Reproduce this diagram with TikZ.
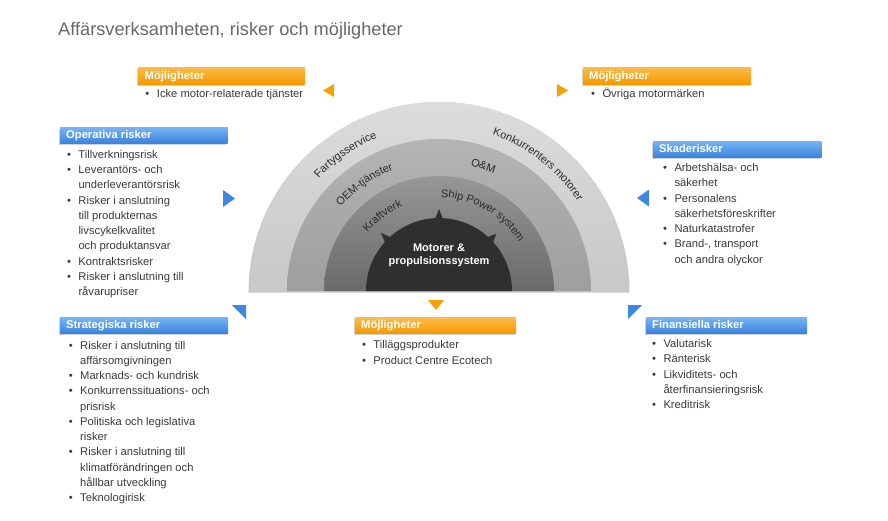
\documentclass[tikz,border=0pt]{standalone}
\usepackage{fontspec}
\setmainfont{Liberation Sans}
\usetikzlibrary{decorations.text}
\definecolor{txt}{HTML}{3A3A3A}
\definecolor{ttl}{HTML}{686868}
\definecolor{orT}{HTML}{FDBB4A}
\definecolor{orB}{HTML}{F39A00}
\definecolor{blT}{HTML}{78B4F4}
\definecolor{blB}{HTML}{3B84DC}
\definecolor{orTri}{HTML}{F7A000}
\definecolor{blTri}{HTML}{3D88E0}
\definecolor{rAt}{HTML}{DCDCDC}
\definecolor{rAb}{HTML}{C8C8C8}
\definecolor{rBt}{HTML}{B4B4B4}
\definecolor{rBb}{HTML}{9E9E9E}
\definecolor{rCt}{HTML}{979797}
\definecolor{rCb}{HTML}{6A6A6A}
\definecolor{core}{HTML}{2F2F2F}
\definecolor{ringtxt}{HTML}{2A2A2A}
\newcommand\bul{\makebox[0pt][r]{\textbullet\hspace{7.5pt}}}
\newcommand\ringfont{\fontsize{11}{13}\selectfont\color{ringtxt}}
\newcommand\mkbar[8]{%
  \fill[black!18] (#2-1.5,#3+1.5) rectangle (#4-1.5,#5+1.5);
  \shade[top color=#6,bottom color=#7] (#2,#3) rectangle (#4,#5);
  \node[hdr] (#1) at (#2+6,#5-4.5) {#8};
}
\tikzset{
  hdr/.style={anchor=base west, inner sep=0pt, text=white, font=\fontsize{11.2}{13}\selectfont\bfseries},
  list/.style={anchor=base west, inner sep=0pt, text=txt, font=\fontsize{11.2}{15.25}\selectfont},
  otri/.style={fill=orTri},
  btri/.style={fill=blTri},
  arctext/.style={decorate, decoration={text along path, text align=center, text={|\ringfont|#1}}},
}
\begin{document}
\begin{tikzpicture}[x=1pt,y=-1pt]
\useasboundingbox (0,0) rectangle (888,520);
\fill[white] (0,0) rectangle (888,520);

% title
\node[anchor=base west, inner sep=0pt, text=ttl, font=\fontsize{18.2}{20}\selectfont] (title) at (58,35) {Affärsverksamheten, risker och möjligheter};

% semicircle diagram
\begin{scope}[shift={(439,291)}, y=1pt]
  \fill[black!22] (-190.5,-1.5) arc[start angle=180,end angle=0,radius=190.5] -- cycle;
  \shade[top color=rAt,bottom color=rAb] (-189,0) arc[start angle=180,end angle=0,radius=189] -- cycle;
  \shade[top color=rBt,bottom color=rBb] (-152,0) arc[start angle=180,end angle=0,radius=152] -- cycle;
  \shade[top color=rCt,bottom color=rCb] (-115,0) arc[start angle=180,end angle=0,radius=115] -- cycle;
  \fill[core] (-73,0) arc[start angle=180,end angle=137.8,radius=73] -- (135:82) -- (132.2:73)
     arc[start angle=132.2,end angle=92.8,radius=73] -- (90:82) -- (87.2:73)
     arc[start angle=87.2,end angle=47.8,radius=73] -- (45:81) -- (42.2:73)
     arc[start angle=42.2,end angle=0,radius=73] -- cycle;
  \path[arctext=Fartygsservice] (164.4:165) arc[start angle=164.4,end angle=84.4,radius=165];
  \path[arctext=Konkurrenters motorer] (92:165) arc[start angle=92,end angle=12,radius=165];
  \path[arctext=OEM-tjänster] (165:129.5) arc[start angle=165,end angle=85,radius=129.5];
  \path[arctext=Kraftverk] (172:92) arc[start angle=172,end angle=82,radius=92];
  \path[arctext=Ship Power system] (110:93.5) arc[start angle=110,end angle=10,radius=93.5];
  \node[rotate=-19.5, inner sep=0pt, font=\ringfont] (om) at (70.5:133) {O\&M};
  \node[align=center, inner sep=0pt, text=white, font=\fontsize{11}{12.7}\selectfont\bfseries, anchor=base] (core) at (0,27) {Motorer \&\\propulsionssystem};
\end{scope}

% header bars
\mkbar{hOppL}{138.5}{67}{305}{84}{orT}{orB}{Möjligheter}
\mkbar{hOppR}{583}{67}{751}{84}{orT}{orB}{Möjligheter}
\mkbar{hOper}{60}{127}{227.5}{143}{blT}{blB}{Operativa risker}
\mkbar{hSkade}{653}{141}{821.5}{157}{blT}{blB}{Skaderisker}
\mkbar{hStrat}{60}{317.5}{228}{333}{blT}{blB}{Strategiska risker}
\mkbar{hOppB}{355}{317.5}{516}{333}{orT}{orB}{Möjligheter}
\mkbar{hFin}{646}{317.5}{807}{333}{blT}{blB}{Finansiella risker}

% lists
\node[list] (lOppL) at (156.7,97.5) {\bul Icke motor-relaterade tjänster};
\node[list] (lOppR) at (602.3,97.5) {\bul Övriga motormärken};
\node[list] (lOper) at (78.3,158.3) {\begin{tabular}[t]{@{}l@{}}
\bul Tillverkningsrisk\\
\bul Leverantörs- och\\
underleverantörsrisk\\
\bul Risker i anslutning\\
till produkternas\\
livscykelkvalitet\\
och produktansvar\\
\bul Kontraktsrisker\\
\bul Risker i anslutning till\\
råvarupriser
\end{tabular}};
\node[list] (lSkade) at (674.3,171.7) {\begin{tabular}[t]{@{}l@{}}
\bul Arbetshälsa- och\\
säkerhet\\
\bul Personalens\\
säkerhetsföreskrifter\\
\bul Naturkatastrofer\\
\bul Brand-, transport\\
och andra olyckor
\end{tabular}};
\node[list] (lStrat) at (80,349) {\begin{tabular}[t]{@{}l@{}}
\bul Risker i anslutning till\\
affärsomgivningen\\
\bul Marknads- och kundrisk\\
\bul Konkurrenssituations- och\\
prisrisk\\
\bul Politiska och legislativa\\
risker\\
\bul Risker i anslutning till\\
klimatförändringen och\\
hållbar utveckling\\
\bul Teknologirisk
\end{tabular}};
\node[list] (lOppB) at (373.3,348.3) {\begin{tabular}[t]{@{}l@{}}
\bul Tilläggsprodukter\\[1.4pt]
\bul Product Centre Ecotech
\end{tabular}};
\node[list] (lFin) at (663.3,347.7) {\begin{tabular}[t]{@{}l@{}}
\bul Valutarisk\\
\bul Ränterisk\\
\bul Likviditets- och\\
återfinansieringsrisk\\
\bul Kreditrisk
\end{tabular}};

% pointer triangles
\fill[otri] (334,84) -- (334,97) -- (323,90.5) -- cycle;
\fill[otri] (557,84) -- (557,97) -- (568,90.5) -- cycle;
\fill[btri] (223,190) -- (223,207) -- (235,198.5) -- cycle;
\fill[btri] (649,189.5) -- (649,206.5) -- (637,198) -- cycle;
\fill[btri] (232,305) -- (246,305) -- (246,319) -- cycle;
\fill[btri] (628,305) -- (642,305) -- (628,319) -- cycle;
\fill[otri] (428,300) -- (444,300) -- (436,310) -- cycle;
\end{tikzpicture}
\end{document}
